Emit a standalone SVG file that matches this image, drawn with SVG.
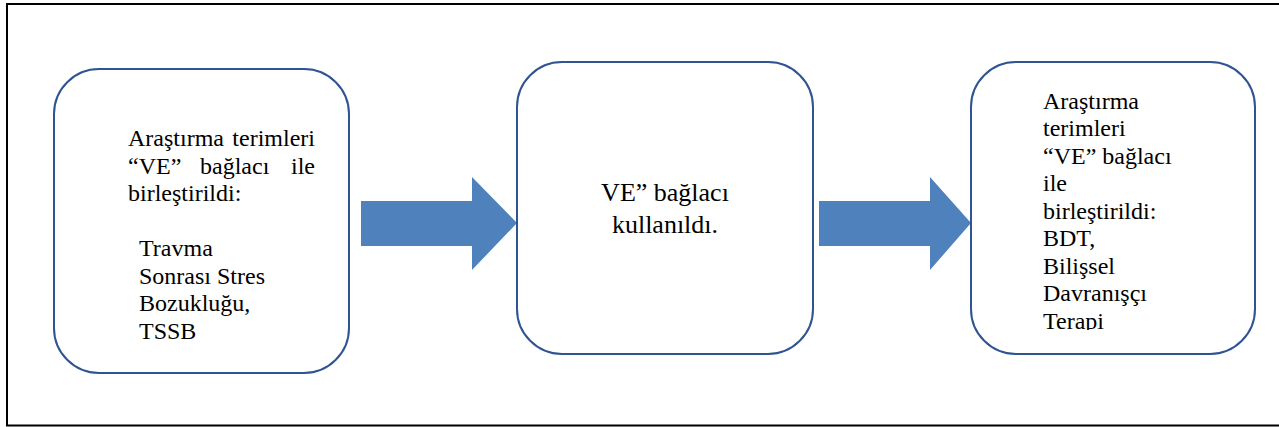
<svg xmlns="http://www.w3.org/2000/svg" width="1279" height="427" viewBox="0 0 1279 427">
  <style>
    .box { fill: #ffffff; stroke: #2f5491; stroke-width: 2; }
    .arrow { fill: #4f81bd; }
    .frame { fill: none; stroke: #000000; stroke-width: 2; }
    .t24 { font-size: 24px; }
    .t26 { font-size: 26px; }
  </style>
  <defs>
    <clipPath id="clip3">
      <rect x="972" y="63" width="282" height="267"/>
    </clipPath>
  </defs>

  <rect x="0" y="0" width="1279" height="427" fill="#ffffff"/>
  <!-- outer frame, open on the right -->
  <path class="frame" d="M1280,4 H7 V425.5 H1280"/>

  <g id="connectors">
    <polygon class="arrow" points="361,201 472,201 472,177 517,223 472,270 472,246 361,246"/>
    <polygon class="arrow" points="819,201 930,201 930,177 971,223 930,270 930,246 819,246"/>
  </g>

  <g font-family="'Liberation Serif', 'Times New Roman', serif" fill="#000000">
    <g id="node-1">
      <rect class="box" x="54" y="69" width="295" height="304" rx="45" ry="45"/>
      <text class="t24">
        <tspan x="128" y="146">Araştırma</tspan>
        <tspan x="315" y="146" text-anchor="end">terimleri</tspan>
      </text>
      <text class="t24">
        <tspan x="128" y="173.5">“VE”</tspan>
        <tspan x="200" y="173.5">bağlacı</tspan>
        <tspan x="315" y="173.5" text-anchor="end">ile</tspan>
      </text>
      <text class="t24" x="128" y="201">birleştirildi:</text>
      <text class="t24" x="139" y="256">Travma</text>
      <text class="t24" x="139" y="283.5">Sonrası Stres</text>
      <text class="t24" x="139" y="311">Bozukluğu,</text>
      <text class="t24" x="139" y="338.5">TSSB</text>
    </g>

    <g id="node-2">
      <rect class="box" x="517" y="62" width="296" height="292" rx="45" ry="45"/>
      <text class="t26" x="665" y="201" text-anchor="middle">VE” bağlacı</text>
      <text class="t26" x="665" y="233" text-anchor="middle">kullanıldı.</text>
    </g>

    <g id="node-3">
      <rect class="box" x="971" y="62" width="284" height="292" rx="45" ry="45"/>
      <g clip-path="url(#clip3)">
        <text class="t24" x="1043" y="108.5">Araştırma</text>
        <text class="t24" x="1043" y="136">terimleri</text>
        <text class="t24" x="1043" y="163.5">“VE” bağlacı</text>
        <text class="t24" x="1043" y="191">ile</text>
        <text class="t24" x="1043" y="218.5">birleştirildi:</text>
        <text class="t24" x="1043" y="246">BDT,</text>
        <text class="t24" x="1043" y="273.5">Bilişsel</text>
        <text class="t24" x="1043" y="301">Davranışçı</text>
        <text class="t24" x="1043" y="328.5">Terapi</text>
      </g>
    </g>
  </g>
</svg>
